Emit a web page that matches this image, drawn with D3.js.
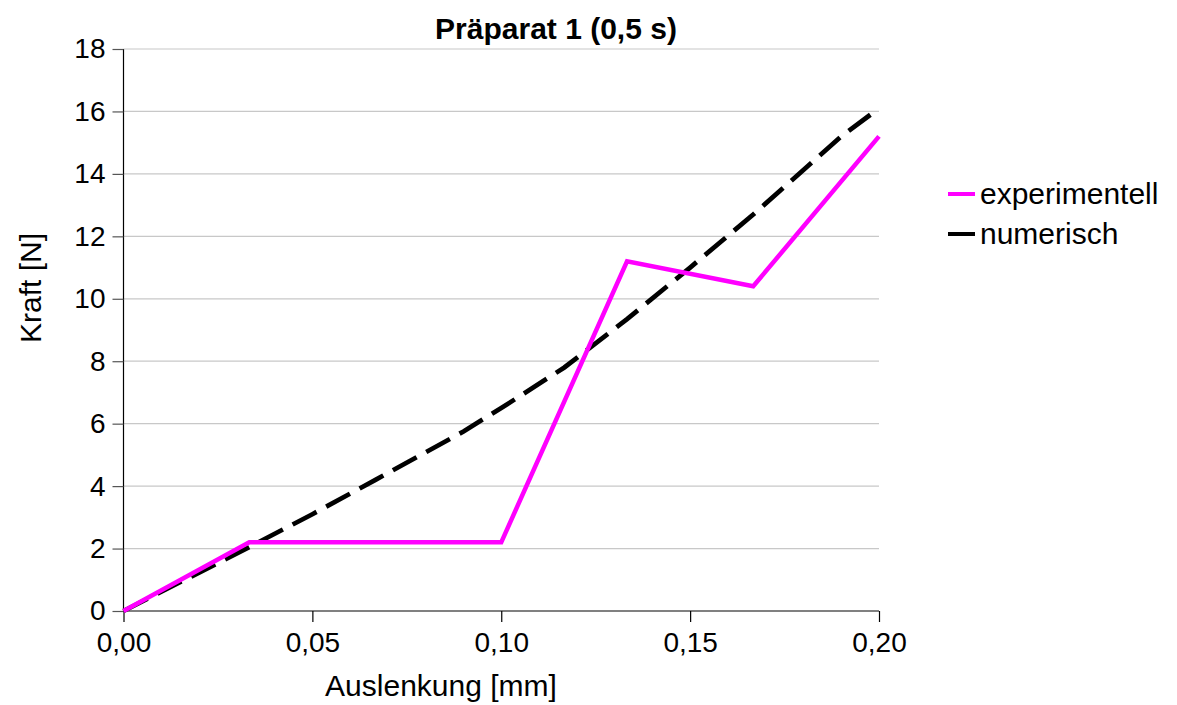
<!DOCTYPE html>
<html>
<head>
<meta charset="utf-8">
<script src="https://cdn.jsdelivr.net/npm/d3@7"></script>
<style>
  body { margin: 0; background: #fff; }
  svg { display: block; font-family: "Liberation Sans", Arial, sans-serif; }
</style>
</head>
<body>
<svg id="chart" width="1177" height="705"></svg>
<script>
// ---- data ----
const expX = [0, 0.0333, 0.1, 0.1333, 0.1667, 0.2];
const expY = [0, 2.2, 2.2, 11.2, 10.4, 15.2];
const numX = [0, 0.0333, 0.05, 0.0667, 0.09, 0.1, 0.1167, 0.1333, 0.15, 0.1667, 0.19, 0.2];
const numY = [0, 2.05, 3.1, 4.2, 5.75, 6.5, 7.8, 9.35, 11.0, 12.7, 15.2, 16.1];
const xTicks = [0, 0.05, 0.10, 0.15, 0.20];
const yTicks = [0, 2, 4, 6, 8, 10, 12, 14, 16, 18];
const seriesNames = ["experimentell", "numerisch"];
const title = "Präparat 1 (0,5 s)";
const xLabel = "Auslenkung [mm]";
const yLabel = "Kraft [N]";

// ---- layout ----
const svg = d3.select("#chart");
const L = 123.5, R = 879, T = 49, B = 611;
const x = d3.scaleLinear().domain([0, 0.2]).range([L, R]);
const y = d3.scaleLinear().domain([0, 18]).range([B, T]);
const fmt = d => d3.format(".2f")(d).replace(".", ",");

// gridlines
svg.append("g").selectAll("line").data(yTicks.filter(d => d > 0)).join("line")
  .attr("x1", L).attr("x2", R).attr("y1", d => y(d)).attr("y2", d => y(d))
  .attr("stroke", "#c8c8c8").attr("stroke-width", 1.2);

// y axis
const yAxis = svg.append("g").attr("transform", `translate(${L},0)`)
  .call(d3.axisLeft(y).tickValues(yTicks).tickSize(11).tickPadding(7).tickFormat(d3.format("d")));
yAxis.select(".domain").attr("stroke", "#000").attr("stroke-width", 1.2).attr("d", `M0,${T}V${B}`);
yAxis.selectAll(".tick line").attr("stroke", "#555").attr("stroke-width", 1.2);
yAxis.selectAll(".tick text").attr("font-size", 28).attr("fill", "#000")
  .attr("font-family", "Liberation Sans, Arial, sans-serif");

// x axis
const xAxis = svg.append("g").attr("transform", `translate(0,${B})`)
  .call(d3.axisBottom(x).tickValues(xTicks).tickSize(11).tickPadding(10).tickFormat(fmt));
xAxis.select(".domain").attr("stroke", "#808080").attr("stroke-width", 2).attr("d", `M${L},0H${R}`);
xAxis.selectAll(".tick line").attr("stroke", "#000").attr("stroke-width", 1.2);
xAxis.selectAll(".tick text").attr("font-size", 28).attr("fill", "#000")
  .attr("font-family", "Liberation Sans, Arial, sans-serif");

// lines
const line = d3.line().x(d => x(d[0])).y(d => y(d[1]));
svg.append("path").datum(numX.map((v, i) => [v, numY[i]]))
  .attr("d", line).attr("fill", "none").attr("stroke", "#000")
  .attr("stroke-width", 4.7).attr("stroke-dasharray", "27,11");
svg.append("path").datum(expX.map((v, i) => [v, expY[i]]))
  .attr("d", line).attr("fill", "none").attr("stroke", "#ff00ff")
  .attr("stroke-width", 4.5).attr("stroke-linejoin", "miter");

// title
svg.append("text").attr("x", 556).attr("y", 39).attr("text-anchor", "middle")
  .attr("font-size", 30).attr("font-weight", "bold").text(title);

// axis labels
svg.append("text").attr("x", 441).attr("y", 696).attr("text-anchor", "middle")
  .attr("font-size", 30).text(xLabel);
svg.append("text").attr("transform", "translate(41,288) rotate(-90)").attr("text-anchor", "middle")
  .attr("font-size", 30).text(yLabel);

// legend
const colors = ["#ff00ff", "#000"];
const lg = svg.append("g");
seriesNames.forEach((n, i) => {
  const yy = 194 + i * 40;
  lg.append("line").attr("x1", 948).attr("x2", 975).attr("y1", yy).attr("y2", yy)
    .attr("stroke", colors[i]).attr("stroke-width", 4);
  lg.append("text").attr("x", 980).attr("y", yy + 10).attr("font-size", 30).text(n);
});
</script>
</body>
</html>
